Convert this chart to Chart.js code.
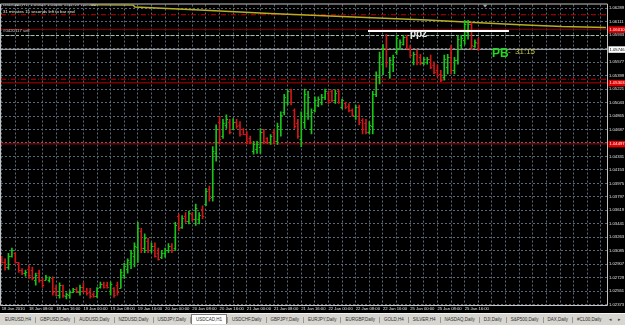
<!DOCTYPE html>
<html>
<head>
<meta charset="utf-8">
<script src="https://cdn.jsdelivr.net/npm/chart.js@4.4.0/dist/chart.umd.min.js"></script>
<style>
  html, body { margin: 0; padding: 0; background: #000; }
  #wrap { position: relative; width: 625px; height: 325px; overflow: hidden; }
  #chart { position: absolute; left: 0; top: 0; background: #000; }
  #tabs { position: absolute; left: 0; top: 313px; width: 625px; height: 12px; background: #d8d6d0;
          border-top: 1px solid #f4f4f4; box-sizing: border-box; display: flex; align-items: center;
          padding-left: 1px; font: 4.5px "Liberation Sans", Arial, sans-serif; color: #303030; white-space: nowrap; }
  .tab { padding: 0 4px; line-height: 8px; }
  .tab.active { background: #fff; border: 1px solid #7a7a7a; border-bottom: none; line-height: 9px; margin-top: -1px; }
  .sep { width: 1px; height: 6px; background: #9c988f; }
  .arr { position: absolute; top: 2px; font-size: 5px; color: #444; }
</style>
</head>
<body>
<div id="wrap">
  <canvas id="chart" width="625" height="313"></canvas>
  <div id="tabs"></div>
</div>
<script>
// time axis labels, one every 8 hourly bars
const timeLabels = ['18 Jan 2010', '18 Jan 08:00', '18 Jan 16:00', '19 Jan 00:00', '19 Jan 08:00', '19 Jan 16:00',
  '20 Jan 00:00', '20 Jan 08:00', '20 Jan 16:00', '21 Jan 00:00', '21 Jan 08:00', '21 Jan 16:00',
  '22 Jan 00:00', '22 Jan 08:00', '22 Jan 16:00', '25 Jan 00:00', '25 Jan 08:00', '25 Jan 16:00'];

const yTickValues = [1.06289, 1.06111, 1.05933, 1.05755, 1.05577, 1.05399, 1.05221, 1.05043, 1.04865, 1.04687,
  1.04509, 1.04331, 1.04153, 1.03975, 1.03797, 1.03619, 1.03441, 1.03263, 1.03085, 1.02907, 1.02729, 1.02551, 1.02373];

// USDCAD H1 bars
const opens = [
  1.0300, 1.0293, 1.0287, 1.0301, 1.0306, 1.0293, 1.0283, 1.0279, 1.0285, 1.0283,
  1.0270, 1.0279, 1.0270, 1.0270, 1.0270, 1.0272, 1.0259, 1.0250, 1.0263, 1.0249,
  1.0250, 1.0254, 1.0258, 1.0254, 1.0260, 1.0256, 1.0254, 1.0251, 1.0249, 1.0260,
  1.0264, 1.0263, 1.0256, 1.0259, 1.0263, 1.0259, 1.0277, 1.0285, 1.0293, 1.0302,
  1.0313, 1.0335, 1.0312, 1.0322, 1.0309, 1.0315, 1.0306, 1.0300, 1.0305, 1.0309,
  1.0315, 1.0312, 1.0355, 1.0340, 1.0355, 1.0348, 1.0357, 1.0351, 1.0351, 1.0364,
  1.0370, 1.0390, 1.0380, 1.0437, 1.0479, 1.0460, 1.0475, 1.0479, 1.0470, 1.0479,
  1.0474, 1.0469, 1.0463, 1.0457, 1.0440, 1.0443, 1.0446, 1.0466, 1.0457, 1.0452,
  1.0465, 1.0453, 1.0469, 1.0492, 1.0505, 1.0519, 1.0495, 1.0477, 1.0456, 1.0479,
  1.0490, 1.0469, 1.0495, 1.0501, 1.0505, 1.0511, 1.0517, 1.0519, 1.0507, 1.0519,
  1.0499, 1.0504, 1.0500, 1.0495, 1.0487, 1.0498, 1.0481, 1.0477, 1.0466, 1.0473,
  1.0516, 1.0538, 1.0555, 1.0577, 1.0545, 1.0555, 1.0571, 1.0577, 1.0581, 1.0591,
  1.0577, 1.0558, 1.0568, 1.0564, 1.0556, 1.0558, 1.0562, 1.0554, 1.0547, 1.0542,
  1.0538, 1.0551, 1.0564, 1.0547, 1.0560, 1.0580, 1.0587, 1.0597, 1.0608, 1.0579,
  1.05823];
const highs = [
  1.0301, 1.0298, 1.0305, 1.0312, 1.0306, 1.0293, 1.0285, 1.0283, 1.0289, 1.0287,
  1.0279, 1.0283, 1.0272, 1.0276, 1.0274, 1.0274, 1.0263, 1.0266, 1.0263, 1.0253,
  1.0256, 1.0259, 1.0260, 1.0263, 1.0266, 1.0259, 1.0259, 1.0253, 1.0260, 1.0267,
  1.0267, 1.0267, 1.0267, 1.0260, 1.0267, 1.0284, 1.0292, 1.0298, 1.0309, 1.0319,
  1.0346, 1.0338, 1.0331, 1.0325, 1.0319, 1.0319, 1.0312, 1.0309, 1.0312, 1.0318,
  1.0318, 1.0346, 1.0357, 1.0355, 1.0359, 1.0361, 1.0359, 1.0370, 1.0359, 1.0368,
  1.0391, 1.0394, 1.0446, 1.0475, 1.0486, 1.0482, 1.0488, 1.0482, 1.0483, 1.0482,
  1.0479, 1.0470, 1.0466, 1.0460, 1.0453, 1.0453, 1.0470, 1.0469, 1.0458, 1.0462,
  1.0469, 1.0477, 1.0492, 1.0515, 1.0521, 1.0522, 1.0496, 1.0482, 1.0492, 1.0522,
  1.0519, 1.0496, 1.0512, 1.0512, 1.0515, 1.0522, 1.0519, 1.0521, 1.0521, 1.0521,
  1.0509, 1.0505, 1.0503, 1.0496, 1.0501, 1.0501, 1.0483, 1.0482, 1.0479, 1.0519,
  1.0545, 1.0571, 1.0581, 1.0594, 1.0564, 1.0567, 1.0593, 1.0587, 1.0593, 1.0593,
  1.0580, 1.0571, 1.0574, 1.0568, 1.0564, 1.0564, 1.0567, 1.0558, 1.0554, 1.0547,
  1.0567, 1.0568, 1.0580, 1.0564, 1.0593, 1.0593, 1.0613, 1.0613, 1.0610, 1.0587,
  1.05896];
const lows = [
  1.0292, 1.0283, 1.0284, 1.0300, 1.0292, 1.0280, 1.0277, 1.0275, 1.0272, 1.0270,
  1.0263, 1.0267, 1.0260, 1.0270, 1.0267, 1.0250, 1.0249, 1.0246, 1.0247, 1.0245,
  1.0246, 1.0253, 1.0253, 1.0250, 1.0253, 1.0250, 1.0246, 1.0247, 1.0247, 1.0259,
  1.0259, 1.0259, 1.0250, 1.0247, 1.0250, 1.0259, 1.0272, 1.0279, 1.0285, 1.0287,
  1.0293, 1.0306, 1.0306, 1.0306, 1.0306, 1.0300, 1.0296, 1.0298, 1.0300, 1.0306,
  1.0306, 1.0309, 1.0335, 1.0338, 1.0346, 1.0344, 1.0348, 1.0342, 1.0344, 1.0351,
  1.0368, 1.0374, 1.0374, 1.0427, 1.0450, 1.0457, 1.0470, 1.0463, 1.0469, 1.0470,
  1.0460, 1.0462, 1.0450, 1.0450, 1.0436, 1.0437, 1.0437, 1.0450, 1.0450, 1.0449,
  1.0450, 1.0449, 1.0460, 1.0488, 1.0501, 1.0501, 1.0470, 1.0457, 1.0446, 1.0470,
  1.0482, 1.0463, 1.0492, 1.0499, 1.0501, 1.0508, 1.0503, 1.0505, 1.0503, 1.0503,
  1.0496, 1.0496, 1.0492, 1.0486, 1.0482, 1.0475, 1.0463, 1.0463, 1.0463, 1.0463,
  1.0512, 1.0529, 1.0541, 1.0551, 1.0536, 1.0545, 1.0568, 1.0574, 1.0580, 1.0575,
  1.0564, 1.0554, 1.0554, 1.0554, 1.0554, 1.0555, 1.0549, 1.0542, 1.0538, 1.0532,
  1.0534, 1.0542, 1.0542, 1.0542, 1.0555, 1.0575, 1.0581, 1.0588, 1.0574, 1.0577,
  1.05729];
const closes = [
  1.0293, 1.0287, 1.0301, 1.0309, 1.0293, 1.0283, 1.0279, 1.0281, 1.0276, 1.0272,
  1.0276, 1.0270, 1.0263, 1.0274, 1.0274, 1.0254, 1.0250, 1.0263, 1.0250, 1.0251,
  1.0254, 1.0258, 1.0254, 1.0260, 1.0256, 1.0253, 1.0249, 1.0249, 1.0259, 1.0264,
  1.0260, 1.0260, 1.0264, 1.0250, 1.0254, 1.0280, 1.0289, 1.0296, 1.0306, 1.0315,
  1.0338, 1.0312, 1.0325, 1.0309, 1.0315, 1.0302, 1.0298, 1.0306, 1.0309, 1.0315,
  1.0309, 1.0342, 1.0338, 1.0352, 1.0348, 1.0359, 1.0351, 1.0365, 1.0356, 1.0355,
  1.0388, 1.0378, 1.0440, 1.0469, 1.0456, 1.0477, 1.0483, 1.0466, 1.0479, 1.0473,
  1.0463, 1.0463, 1.0453, 1.0452, 1.0449, 1.0450, 1.0466, 1.0453, 1.0452, 1.0460,
  1.0453, 1.0473, 1.0488, 1.0511, 1.0519, 1.0505, 1.0473, 1.0460, 1.0486, 1.0516,
  1.0512, 1.0492, 1.0508, 1.0509, 1.0512, 1.0519, 1.0507, 1.0508, 1.0517, 1.0505,
  1.0507, 1.0499, 1.0495, 1.0488, 1.0498, 1.0479, 1.0469, 1.0466, 1.0475, 1.0515,
  1.0541, 1.0564, 1.0577, 1.0558, 1.0560, 1.0564, 1.0589, 1.0584, 1.0591, 1.0577,
  1.0567, 1.0568, 1.0558, 1.0556, 1.0562, 1.0562, 1.0551, 1.0545, 1.0541, 1.0534,
  1.0562, 1.0564, 1.0547, 1.0560, 1.0588, 1.0589, 1.0608, 1.0608, 1.0580, 1.0584,
  1.05746];

// higher timeframe average (yellow), bar index / price
const maBars = [25.9, 38.6, 39.1, 58.2, 78.8, 105.2, 124.9, 137.5, 152.2, 164.6, 177.5];
const maPrices = [1.06334, 1.06330, 1.06305, 1.06266, 1.06220, 1.06168, 1.06132, 1.06102, 1.06072, 1.06046, 1.06033];

// horizontal objects
const levelPrices = [1.06203, 1.06010, 1.05928, 1.05746, 1.05351, 1.05303, 1.04497];
const levelStyles = [
  { color: '#c00000', dash: [5, 2, 1, 2] },
  { color: '#8c0000', dash: [] },
  { color: '#9ccf9c', dash: [3, 2] },
  { color: '#bdbdbd', dash: [] },
  { color: '#c00000', dash: [5, 2, 1, 2] },
  { color: '#b40000', dash: [] },
  { color: '#b40000', dash: [] }
];
const axisBoxPrices = [1.06010, 1.05746, 1.05303, 1.04497];
const axisBoxColors = ['#e00000', '#ffffff', '#e00000', '#e00000'];

// "ppz" trend line
const ppzBars = [107.6, 149.0];
const ppzPrice = 1.05988;

const notes = [
  { text: 'ppz', bar: 119.9, price: 1.05909, font: 'bold 10px "Liberation Sans", Arial', color: '#e8e8e8' },
  { text: 'PB', bar: 144.0, price: 1.05644, font: 'bold 12px "Liberation Sans", Arial', color: '#1fd81f' },
  { text: '-  31:15', bar: 148.7, price: 1.05689, font: '8px "Liberation Sans", Arial', color: '#c4c444' }
];
const shiftMarkBar = 142;

const tabNames = ['EURUSD,H4', 'GBPUSD,Daily', 'AUDUSD,Daily', 'NZDUSD,Daily', 'USDJPY,Daily', 'USDCAD,H1',
  'USDCHF,Daily', 'GBPJPY,Daily', 'EURJPY,Daily', 'EURGBP,Daily', 'GOLD,H4', 'SILVER,H4', 'NASDAQ,Daily',
  'DJI,Daily', 'S&P500,Daily', 'DAX,Daily', '#CL00,Daily'];
const activeTab = 'USDCAD,H1';

const X_MIN = -0.2, X_MAX = 177.8;
const Y_MIN = 1.023685, Y_MAX = 1.063378;
const UP = '#18c418', DOWN = '#d01818';
const FONT = '"Liberation Sans", Arial, sans-serif';

const last = closes.length - 1;
const barColors = closes.map((c, i) => (c >= opens[i] ? UP : DOWN));
const barData = highs.map((h, i) => ({ x: i, y: [lows[i], h] }));

const datasets = [
  {
    type: 'bar', data: barData, backgroundColor: barColors, barThickness: 1,
    borderWidth: 0, order: 1
  },
  {
    type: 'line', data: [{ x: ppzBars[0], y: ppzPrice }, { x: ppzBars[1], y: ppzPrice }],
    borderColor: '#ffffff', borderWidth: 2, pointRadius: 0, order: 0
  },
  {
    type: 'line', data: maBars.map((b, i) => ({ x: b, y: maPrices[i] })),
    borderColor: '#b8ae22', borderWidth: 1.5, pointRadius: 0, order: 2
  }
];
levelPrices.forEach((p, i) => {
  datasets.push({
    type: 'line', data: [{ x: X_MIN, y: p }, { x: X_MAX, y: p }],
    borderColor: levelStyles[i].color, borderDash: levelStyles[i].dash,
    borderWidth: 1, pointRadius: 0, order: 3
  });
});

const mt4 = {
  id: 'mt4',
  beforeDraw(chart) {
    const ctx = chart.ctx;
    ctx.save();
    ctx.fillStyle = '#000';
    ctx.fillRect(0, 0, chart.width, chart.height);
    ctx.restore();
  },
  afterDatasetsDraw(chart) {
    const { ctx, chartArea: ca } = chart;
    const xs = chart.scales.x, ys = chart.scales.y;
    ctx.save();
    ctx.beginPath();
    ctx.rect(ca.left, ca.top, ca.right - ca.left, ca.bottom - ca.top);
    ctx.clip();

    // open / close ticks of the OHLC bars
    ctx.lineWidth = 1;
    for (let i = 0; i <= last; i++) {
      const px = xs.getPixelForValue(i);
      const yo = Math.round(ys.getPixelForValue(opens[i])) + 0.5;
      const yc = Math.round(ys.getPixelForValue(closes[i])) + 0.5;
      ctx.strokeStyle = barColors[i];
      ctx.beginPath();
      ctx.moveTo(px - 1.7, yo); ctx.lineTo(px, yo);
      ctx.moveTo(px, yc); ctx.lineTo(px + 1.7, yc);
      ctx.stroke();
    }

    // text objects on the chart
    ctx.textBaseline = 'alphabetic';
    ctx.textAlign = 'left';
    notes.forEach(n => {
      ctx.font = n.font;
      ctx.fillStyle = n.color;
      ctx.fillText(n.text, xs.getPixelForValue(n.bar), ys.getPixelForValue(n.price));
    });

    // header lines
    ctx.font = '4.3px ' + FONT;
    ctx.textBaseline = 'middle';
    ctx.fillStyle = '#f0f0f0';
    ctx.fillText('USDCAD,H1  ' + opens[last].toFixed(5) + ' ' + highs[last].toFixed(5) + ' ' +
      lows[last].toFixed(5) + ' ' + closes[last].toFixed(5), 3, 5);
    ctx.fillStyle = '#eeeed0';
    ctx.fillText('31 minutes 15 seconds left to bar end', 3, 11.5);
    ctx.fillStyle = '#d4d4d4';
    ctx.fillText('#0420117 sell', 3, 31);

    // chart shift mark
    const sx = xs.getPixelForValue(shiftMarkBar);
    ctx.fillStyle = '#a0a0a0';
    ctx.beginPath();
    ctx.moveTo(sx - 2.5, ca.top); ctx.lineTo(sx + 2.5, ca.top); ctx.lineTo(sx, ca.top + 3);
    ctx.fill();
    ctx.restore();

    // frame
    ctx.save();
    ctx.strokeStyle = '#c4c4c4';
    ctx.lineWidth = 1;
    ctx.beginPath();
    ctx.moveTo(0.5, ca.top - 0.5); ctx.lineTo(ca.right + 0.5, ca.top - 0.5);
    ctx.moveTo(0.5, ca.top - 0.5); ctx.lineTo(0.5, ca.bottom + 0.5);
    ctx.moveTo(ca.right + 0.5, ca.top - 0.5); ctx.lineTo(ca.right + 0.5, ca.bottom + 0.5);
    ctx.moveTo(0.5, ca.bottom + 0.5); ctx.lineTo(ca.right + 0.5, ca.bottom + 0.5);
    ctx.stroke();
    ctx.restore();
  },
  afterDraw(chart) {
    const { ctx, chartArea: ca } = chart;
    const ys = chart.scales.y;
    ctx.save();
    ctx.font = '4.2px ' + FONT;
    ctx.textBaseline = 'middle';
    ctx.textAlign = 'left';
    axisBoxPrices.forEach((p, i) => {
      const py = ys.getPixelForValue(p);
      ctx.fillStyle = axisBoxColors[i];
      ctx.fillRect(ca.right + 1.5, py - 3, 17, 6.5);
      ctx.fillStyle = axisBoxColors[i] === '#ffffff' ? '#000' : '#fff';
      ctx.fillText(p.toFixed(5), ca.right + 2.5, py + 0.3);
    });
    ctx.restore();
  }
};

new Chart(document.getElementById('chart'), {
  type: 'bar',
  data: { datasets },
  options: {
    responsive: false,
    devicePixelRatio: 1,
    animation: false,
    layout: { padding: { top: 2, left: 1, right: 0, bottom: 0 } },
    plugins: { legend: { display: false }, tooltip: { enabled: false } },
    scales: {
      x: {
        type: 'linear', min: X_MIN, max: X_MAX, offset: false,
        afterBuildTicks: s => {
          const t = [];
          timeLabels.forEach((_, k) => { t.push({ value: k * 8 }); t.push({ value: k * 8 + 4 }); });
          for (let v = timeLabels.length * 8; v <= 176; v += 4) t.push({ value: v });
          s.ticks = t;
        },
        afterFit: s => { s.height = 8; },
        ticks: {
          autoSkip: false, maxRotation: 0, align: 'start', padding: 1, color: '#e4e4e4',
          font: { size: 4.2, family: FONT },
          callback: v => (v % 8 === 0 && timeLabels[v / 8]) ? timeLabels[v / 8] : ''
        },
        grid: { color: '#5c6878', drawTicks: false, offset: false },
        border: { display: false, dash: [2, 2] }
      },
      y: {
        type: 'linear', position: 'right', min: Y_MIN, max: Y_MAX, beginAtZero: false,
        afterBuildTicks: s => { s.ticks = yTickValues.map(v => ({ value: v })); },
        afterFit: s => { s.width = 18; },
        ticks: {
          autoSkip: false, padding: 2, color: '#e0e0e0',
          font: { size: 4.2, family: FONT },
          callback: v => v.toFixed(5)
        },
        grid: { color: '#5c6878', drawTicks: false },
        border: { display: false, dash: [2, 2] }
      }
    }
  },
  plugins: [mt4]
});

// symbol tabs
const tabs = document.getElementById('tabs');
tabNames.forEach((name, i) => {
  if (i > 0) {
    const s = document.createElement('span');
    s.className = 'sep';
    tabs.appendChild(s);
  }
  const t = document.createElement('span');
  t.className = 'tab' + (name === activeTab ? ' active' : '');
  t.textContent = name;
  tabs.appendChild(t);
});
['\u25C2', '\u25B8'].forEach((a, i) => {
  const s = document.createElement('span');
  s.className = 'arr';
  s.style.left = (609 + i * 9) + 'px';
  s.textContent = a;
  tabs.appendChild(s);
});
</script>
</body>
</html>
